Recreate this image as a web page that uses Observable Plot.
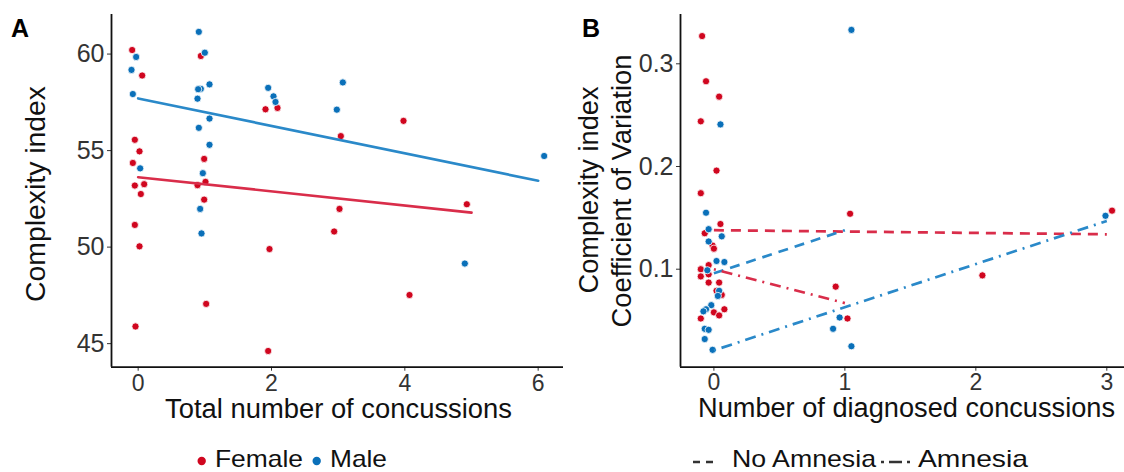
<!DOCTYPE html>
<html>
<head>
<meta charset="utf-8">
<script src="https://cdn.jsdelivr.net/npm/d3@7"></script>
<script src="https://cdn.jsdelivr.net/npm/@observablehq/plot@0.6"></script>
<style>
  html, body { margin: 0; padding: 0; background: #fff; overflow: hidden; }
  #wrap { position: relative; width: 1124px; height: 472px; overflow: hidden; font-family: "Liberation Sans", Arial, sans-serif; }
  #wrap > svg, #wrap > div { position: absolute; top: 0; }
</style>
</head>
<body>
<div id="wrap"></div>
<script>
// ---------- Panel A data ----------
const femaleA_x = [-0.09, 0.06, -0.05, 0.02, -0.08, -0.05, 0.09, 0.04, -0.05, 0.02, -0.04, 0.94, 0.99, 1.01, 0.89, 0.99, 1.02, 1.91, 2.09, 1.97, 1.95, 3.04, 2.94, 3.02, 3.98, 4.07, 4.93];
const femaleA_y = [60.21, 58.89, 55.56, 54.96, 54.36, 53.19, 53.26, 52.75, 51.15, 50.04, 45.89, 59.9, 54.57, 53.38, 53.21, 52.46, 47.06, 57.14, 57.21, 49.9, 44.62, 55.75, 50.81, 51.98, 56.54, 47.52, 52.22];
const maleA_x = [-0.03, -0.1, -0.08, 0.03, 0.91, 1.0, 0.94, 0.90, 1.07, 0.89, 1.07, 0.91, 1.07, 0.97, 0.93, 0.95, 1.95, 2.03, 2.06, 3.07, 2.98, 4.9, 6.09];
const maleA_y = [59.85, 59.18, 57.93, 54.08, 61.15, 60.07, 58.2, 58.18, 58.43, 57.69, 56.66, 56.18, 55.3, 53.83, 51.98, 50.71, 58.25, 57.81, 57.52, 58.53, 57.12, 49.15, 54.72];
const femaleFitA_x = [0, 5];
const femaleFitA_y = [53.62, 51.79];
const maleFitA_x = [0, 6];
const maleFitA_y = [57.7, 53.44];
const ticksA_x = [0, 2, 4, 6];
const ticksA_y = [45, 50, 55, 60];

// ---------- Panel B data ----------
const femaleB_x = [-0.09, -0.06, 0.04, -0.10, 0.02, -0.10, 0.05, -0.07, -0.01, 0.0, -0.04, -0.10, -0.10, -0.04, -0.04, 0.04, 0.02, 0.06, -0.10, 0.0, 0.04, 0.08, 1.04, 0.93, 1.02, 2.05, 3.04];
const femaleB_y = [0.327, 0.283, 0.268, 0.244, 0.196, 0.174, 0.144, 0.135, 0.123, 0.120, 0.104, 0.100, 0.093, 0.095, 0.087, 0.087, 0.079, 0.075, 0.052, 0.058, 0.055, 0.061, 0.154, 0.083, 0.052, 0.094, 0.157];
const maleB_x = [0.05, -0.06, -0.04, 0.06, -0.04, 0.02, 0.08, -0.05, 0.04, 0.03, -0.02, -0.06, -0.08, -0.07, -0.04, -0.07, -0.01, 1.05, 0.96, 0.91, 1.05, 2.99];
const maleB_y = [0.241, 0.155, 0.139, 0.132, 0.127, 0.108, 0.107, 0.099, 0.079, 0.074, 0.065, 0.061, 0.059, 0.042, 0.041, 0.032, 0.0215, 0.333, 0.053, 0.042, 0.025, 0.152];
const lineB_sex = ["Female", "Male", "Female", "Male"];
const lineB_amnesia = ["No Amnesia", "No Amnesia", "Amnesia", "Amnesia"];
const lineB_x0 = [0, 0, 0, 0];
const lineB_x1 = [3, 1, 1, 3];
const lineB_y0 = [0.138, 0.096, 0.100, 0.021];
const lineB_y1 = [0.134, 0.138, 0.067, 0.147];
const ticksB_x = [0, 1, 2, 3];
const ticksB_y = [0.1, 0.2, 0.3];

// ---------- Labels ----------
const sexes = ["Female", "Male"];
const amnesiaLevels = ["No Amnesia", "Amnesia"];
const titleA_x = "Total number of concussions";
const titleA_y = "Complexity index";
const titleB_x = "Number of diagnosed concussions";
const titleB_y = ["Complexity index", "Coefficient of Variation"];

// ---------- Styles ----------
const RED = "#d0061f", BLUE = "#0a70b9";
const RED_LINE = "#d92d4a", BLUE_LINE = "#2a89c9";
const FONT = "'Liberation Sans', Arial, Helvetica, sans-serif";
const DASH = "10,7", DOTDASH = "2,6,11,6";

const pts = (xs, ys, sex) => xs.map((x, i) => ({x, y: ys[i], sex}));
const dataA = [...pts(femaleA_x, femaleA_y, "Female"), ...pts(maleA_x, maleA_y, "Male")];
const fitsA = [
  ...femaleFitA_x.map((x, i) => ({x, y: femaleFitA_y[i], sex: "Female"})),
  ...maleFitA_x.map((x, i) => ({x, y: maleFitA_y[i], sex: "Male"}))
];
const dataB = [...pts(femaleB_x, femaleB_y, "Female"), ...pts(maleB_x, maleB_y, "Male")];
const linesB = lineB_sex.map((s, i) => ({sex: s, amnesia: lineB_amnesia[i], x1: lineB_x0[i], x2: lineB_x1[i], y1: lineB_y0[i], y2: lineB_y1[i]}));

const colorScale = {domain: sexes, range: [RED, BLUE]};
const axisStyle = {fontSize: "23px", fontFamily: FONT, color: "#333", background: "transparent", overflow: "visible"};
const intFmt = d3.format("d");

// ---------- Panel A ----------
const WA = 575, HA = 430;
const xDomA = [-0.4, 6.38], yDomA = [43.78, 62.05];
const plotA = Plot.plot({
  width: WA, height: HA,
  marginLeft: 111, marginRight: WA - 563, marginTop: 14, marginBottom: HA - 366.7,
  style: axisStyle,
  x: {domain: xDomA},
  y: {domain: yDomA},
  color: colorScale,
  marks: [
    Plot.axisX({ticks: ticksA_x, tickFormat: intFmt, tickSize: 4, tickPadding: 3, label: null, stroke: "#333"}),
    Plot.axisY({ticks: ticksA_y, tickFormat: intFmt, tickSize: 4, tickPadding: 3, label: null, stroke: "#333", fontSize: 25}),
    Plot.ruleX([xDomA[0]], {stroke: "#111", strokeWidth: 1.8}),
    Plot.ruleY([yDomA[0]], {stroke: "#111", strokeWidth: 1.8}),
    Plot.dot(dataA, {x: "x", y: "y", fill: "sex", r: 3.6, stroke: "white", strokeWidth: 0.8}),
    Plot.line(fitsA, {x: "x", y: "y", z: "sex", stroke: d => d.sex === "Female" ? RED_LINE : BLUE_LINE, strokeWidth: 2.7})
  ]
});
plotA.style.left = "0px";

// ---------- Panel B ----------
const WB = 580, HB = 430, LB = 560;
const xDomB = [-0.255, 3.21], yDomB = [0.0046, 0.348];
const linkOpts = (amn, dash) => ({
  filter: d => d.amnesia === amn,
  x1: "x1", y1: "y1", x2: "x2", y2: "y2",
  stroke: d => d.sex === "Female" ? RED_LINE : BLUE_LINE,
  strokeWidth: 2.7,
  strokeDasharray: dash
});
const plotB = Plot.plot({
  width: WB, height: HB,
  marginLeft: 680 - LB, marginRight: (LB + WB) - 1133.8, marginTop: 14, marginBottom: HB - 366.7,
  style: axisStyle,
  x: {domain: xDomB},
  y: {domain: yDomB},
  color: colorScale,
  marks: [
    Plot.axisX({ticks: ticksB_x, tickFormat: intFmt, tickSize: 4, tickPadding: 2, label: null, stroke: "#333"}),
    Plot.axisY({ticks: ticksB_y, tickFormat: d3.format(".1f"), tickSize: 4, tickPadding: 3, label: null, stroke: "#333", fontSize: 25}),
    Plot.ruleX([xDomB[0]], {stroke: "#111", strokeWidth: 1.8}),
    Plot.ruleY([yDomB[0]], {stroke: "#111", strokeWidth: 1.8}),
    Plot.dot(dataB, {x: "x", y: "y", fill: "sex", r: 3.6, stroke: "white", strokeWidth: 0.8}),
    Plot.link(linesB, linkOpts("No Amnesia", DASH)),
    Plot.link(linesB, linkOpts("Amnesia", DOTDASH))
  ]
});
plotB.style.left = LB + "px";

const wrap = document.getElementById("wrap");
wrap.appendChild(plotA);
wrap.appendChild(plotB);

// ---------- Titles, panel tags, legends ----------
const ov = d3.select(wrap).append("svg")
  .attr("width", 1124).attr("height", 472)
  .style("left", "0px").style("top", "0px")
  .attr("font-family", FONT);

function label(x, y, txt, size, len, opts = {}) {
  const t = ov.append("text").attr("font-size", size).attr("fill", opts.fill || "#111").text(txt);
  if (opts.rotate) t.attr("transform", `translate(${x},${y}) rotate(-90)`);
  else t.attr("x", x).attr("y", y);
  t.attr("text-anchor", opts.anchor || "start");
  if (len) t.attr("textLength", len).attr("lengthAdjust", "spacingAndGlyphs");
  if (opts.bold) t.attr("font-weight", "bold");
  return t;
}

label(11, 37, "A", 25, null, {bold: true, fill: "#000"});
label(582, 37, "B", 25, null, {bold: true, fill: "#000"});

label(45, 194, titleA_y, 27, 216, {rotate: true, anchor: "middle"});
label(598, 190, titleB_y[0], 27, 207, {rotate: true, anchor: "middle"});
label(631, 191, titleB_y[1], 27, 273, {rotate: true, anchor: "middle"});

label(338.5, 418, titleA_x, 27, 347, {anchor: "middle"});
label(906.5, 417, titleB_x, 27, 417, {anchor: "middle"});

// Legend A (sex)
const legA = [{cx: 201.7, tx: 215, len: 88}, {cx: 316.7, tx: 330, len: 57}];
sexes.forEach((s, i) => {
  ov.append("circle").attr("cx", legA[i].cx).attr("cy", 461).attr("r", 4.2).attr("fill", i ? BLUE : RED);
  label(legA[i].tx, 467, s, 24, legA[i].len);
});

// Legend B (amnesia)
const legB = [
  {x1: 693, x2: 713, tx: 732, len: 144, dash: "7,6"},
  {x1: 881, x2: 913, tx: 918, len: 110, dash: "3,5,13,5,3,100"}
];
amnesiaLevels.forEach((a, i) => {
  ov.append("line").attr("x1", legB[i].x1).attr("x2", legB[i].x2).attr("y1", 462).attr("y2", 462)
    .attr("stroke", "#333").attr("stroke-width", 2.4).attr("stroke-dasharray", legB[i].dash);
  label(legB[i].tx, 467, a, 24, legB[i].len);
});
</script>
</body>
</html>
